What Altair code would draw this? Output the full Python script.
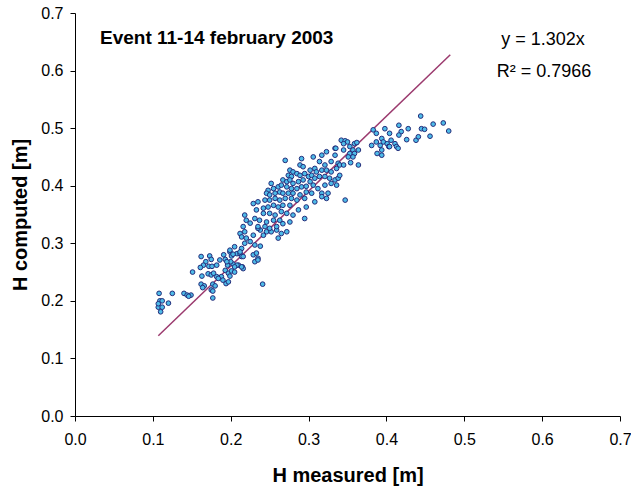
import altair as alt
import pandas as pd

# H measured [m] and H computed [m]
h_measured = [
    # lowest group
    .108, .109, .112, .120, .107, .112, .110, .125, .140, .144, .149, .146, .107,
    # x 0.15 - 0.22
    .162, .173, .175, .168, .165, .161, .172, .176, .151, .163, .171, .175, .178, .182, .188,
    .184, .162, .166, .164, .177, .180, .194, .197, .175, .177, .186, .191, .193, .196, .203,
    .200, .193, .197, .201, .205, .199, .190, .199, .201, .208, .212, .214, .215, .210, .177,
    # x 0.20 - 0.27 lower band
    .218, .220, .216, .246, .252, .259, .265, .272, .212, .218, .214, .220, .229, .242, .261,
    .225, .218, .231, .238, .214, .205, .199, .203, .212, .216, .229, .235, .231, .208, .216,
    .205, .195, .182, .241, .233, .235, .214, .225, .238, .235,
    # dense core
    .270, .291, .306, .317, .323, .334, .289, .293, .314, .321, .329, .338, .302, .308, .276,
    .280, .274, .278, .285, .289, .295, .300, .304, .310, .317, .323, .329, .336, .267, .272,
    .276, .280, .287, .293, .302, .308, .314, .321, .327, .334, .338, .252, .248, .255, .261,
    .265, .272, .278, .285, .291, .297, .306, .312, .321, .329, .336, .246, .250, .257, .263,
    .267, .274, .280, .289, .297, .304, .317, .325, .229, .235, .244, .250, .257, .263, .270,
    .278, .285, .295, .308, .317, .323, .233, .242, .248, .255, .261, .267, .276, .287, .297,
    .242, .250, .257, .265, .272, .280, .295, .231, .237, .246, .255, .263, .267, .276, .235,
    .244, .250, .259,
    # x 0.33 - 0.37
    .342, .347, .350, .345, .353, .359, .362, .357, .364, .334, .353, .359, .357, .340, .345,
    .340, .347, .364, .351, .345, .354, .335,
    # upper-right group
    .383, .387, .398, .404, .394, .396, .387, .381, .392, .401, .406, .403, .394, .388, .394,
    .404, .411, .413, .415, .416, .419, .428, .416, .426, .438, .441, .445, .449, .444, .456,
    .460, .473, .480,
]
h_computed = [
    .213, .200, .200, .196, .189, .189, .181, .213, .213, .210, .210, .208, .195,
    .277, .278, .272, .268, .262, .258, .260, .260, .250, .243, .247, .245, .248, .242, .242,
    .239, .229, .226, .223, .229, .226, .230, .233, .219, .205, .271, .280, .272, .262, .264,
    .268, .253, .248, .252, .250, .243, .236, .285, .278, .282, .282, .277, .259, .262, .217,
    .349, .340, .329, .320, .320, .323, .317, .320, .317, .320, .311, .309, .314, .314, .309,
    .303, .300, .297, .295, .291, .294, .288, .281, .285, .277, .280, .274, .268, .262, .256,
    .259, .268, .262, .229, .283, .271, .259, .335, .323, .326,
    .444, .447, .450, .453, .459, .453, .436, .433, .442, .436, .442, .439, .427, .430, .427,
    .424, .418, .416, .421, .418, .421, .416, .418, .424, .427, .427, .424, .430, .410, .407,
    .410, .404, .407, .410, .407, .413, .416, .416, .413, .410, .413, .404, .392, .395, .398,
    .401, .398, .395, .395, .398, .399, .401, .395, .401, .404, .401, .387, .384, .387, .389,
    .387, .387, .387, .384, .389, .387, .387, .387, .369, .372, .375, .375, .378, .375, .378,
    .378, .375, .378, .372, .381, .378, .358, .361, .363, .366, .363, .366, .366, .358, .363,
    .352, .352, .349, .355, .352, .349, .343, .343, .340, .337, .340, .340, .334, .337, .329,
    .329, .326, .329,
    .479, .478, .476, .473, .468, .473, .475, .462, .462, .465, .456, .456, .450, .436, .436,
    .418, .375, .436, .450, .462, .440, .465,
    .497, .491, .499, .491, .482, .476, .476, .470, .470, .473, .479, .468, .462, .456, .453,
    .468, .473, .468, .465, .505, .494, .499, .488, .480, .479, .485, .499, .498, .521, .486,
    .507, .509, .495,
]

fit_x = [0.107, 0.482]
fit_slope = 1.302
tick_values = [0.0, 0.1, 0.2, 0.3, 0.4, 0.5, 0.6, 0.7]

chart_title = "Event 11-14 february 2003"
eq_text = "y = 1.302x"
r2_text = "R\u00b2 = 0.7966"

FONT = "Liberation Sans"

pts = pd.DataFrame({"m": h_measured, "c": h_computed})
fit = pd.DataFrame({"m": fit_x})

xscale = alt.Scale(domain=[0, 0.7], nice=False, zero=False)
yscale = alt.Scale(domain=[0, 0.7], nice=False, zero=False)

common_axis = dict(
    values=tick_values, format=".1f", grid=False, labelFlush=False,
    domainColor="black", domainWidth=1, tickColor="black", tickSize=5, tickWidth=1,
    labelFont=FONT, labelFontSize=16, labelColor="black",
    titleFont=FONT, titleFontSize=20, titleFontWeight="bold", titleColor="black",
)

xaxis = alt.Axis(title="H measured [m]", labelPadding=10, titlePadding=18, **common_axis)
yaxis = alt.Axis(title="H computed [m]", labelPadding=7, titlePadding=10, **common_axis)

points = alt.Chart(pts).mark_point(
    shape="circle", filled=True, size=22, fill="#4DBBE8", stroke="#232C7A",
    strokeWidth=1, fillOpacity=1, strokeOpacity=1, opacity=1,
).encode(
    x=alt.X("m:Q", scale=xscale, axis=xaxis),
    y=alt.Y("c:Q", scale=yscale, axis=yaxis),
)

line = alt.Chart(fit).transform_calculate(
    c=f"{fit_slope} * datum.m"
).mark_line(color="#9B3A6E", strokeWidth=1.5).encode(
    x=alt.X("m:Q", scale=xscale),
    y=alt.Y("c:Q", scale=yscale),
)

title_txt = alt.Chart(pd.DataFrame({"t": [chart_title]})).mark_text(
    font=FONT, fontSize=19, fontWeight="bold", color="black", align="left", baseline="alphabetic"
).encode(x=alt.value(25), y=alt.value(31), text="t:N")

eq_txt = alt.Chart(pd.DataFrame({"t": [eq_text]})).mark_text(
    font=FONT, fontSize=18, color="black", align="center", baseline="alphabetic"
).encode(x=alt.value(468), y=alt.value(32), text="t:N")

r2_txt = alt.Chart(pd.DataFrame({"t": [r2_text]})).mark_text(
    font=FONT, fontSize=18, color="black", align="center", baseline="alphabetic"
).encode(x=alt.value(469), y=alt.value(64), text="t:N")

chart = alt.layer(line, points, title_txt, eq_txt, r2_txt).properties(
    width=545, height=403,
    padding={"left": 75, "top": 13, "right": 11, "bottom": 73},
    autosize=alt.AutoSizeParams(type="none"),
    background="white",
).configure_view(stroke=None)

chart.save("out.html", embed_options={"renderer": "svg", "actions": False})
